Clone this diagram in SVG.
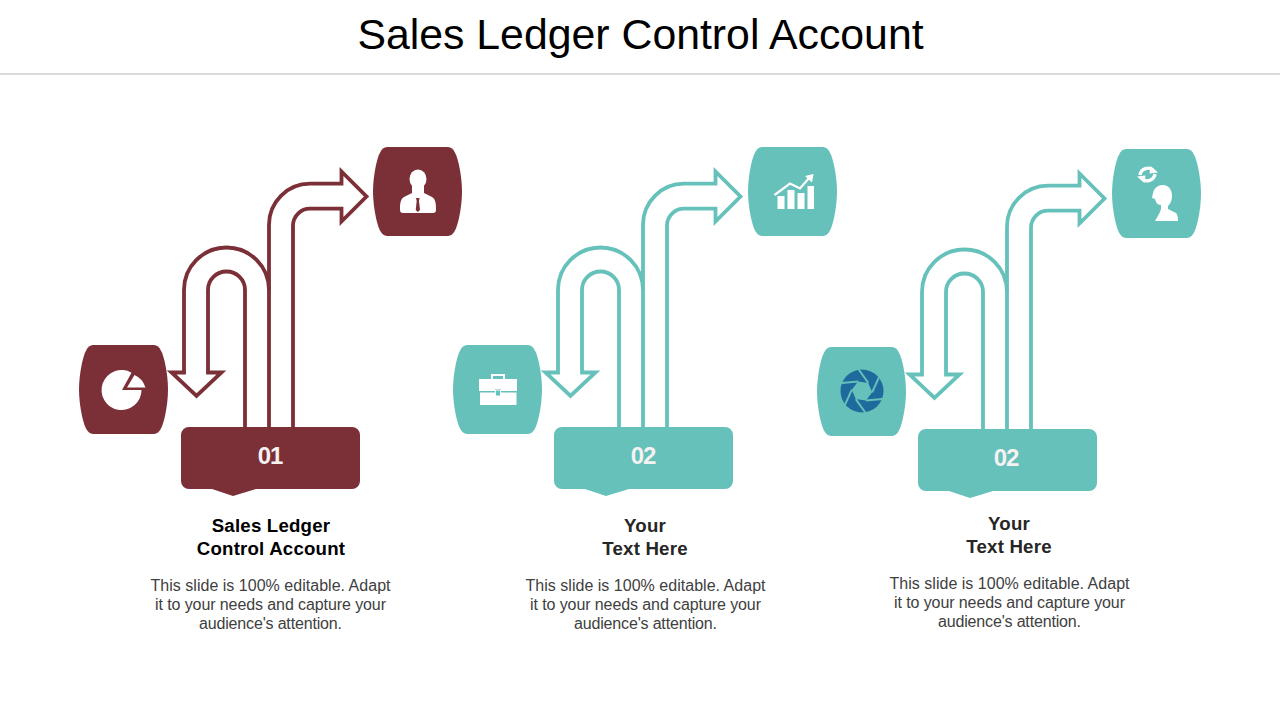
<svg xmlns="http://www.w3.org/2000/svg" width="1280" height="720" viewBox="0 0 1280 720">
<style>
text{font-family:"Liberation Sans",Arial,sans-serif;text-anchor:middle}
.title{font-size:42.8px;fill:#000}
.head{font-size:18.67px;font-weight:700;fill:#262626;letter-spacing:.2px}
.head1{fill:#000}
.body{font-size:16px;fill:#404040}
.num{font-size:24px;font-weight:700;fill:#f5f2f2;letter-spacing:-1px}
.arrow{fill:none;stroke-width:3.8;stroke-linejoin:miter}
.m{fill:#7b2f37}.t{fill:#66c1bb}
.ms{stroke:#7b2f37}.ts{stroke:#66c1bb}
.w{fill:#fff}
</style>
<defs>
<path id="blob" d="M14,0H75C81,0 84,9 86,18C88,27 89,37 89,44.500C89,52 88,62 86,71C84,80 81,89 75,89H14C8,89 5,80 3,71C1,62 0,52 0,44.500C0,37 1,27 3,18C5,9 8,0 14,0Z"/>
<path id="badge" d="M189,427H352A8,8 0 0 1 360,435V481A8,8 0 0 1 352,489H256L233,496L212,489H189A8,8 0 0 1 181,481V435A8,8 0 0 1 189,427Z"/>
<path id="up" d="M269,427V225A41,41 0 0 1 310,183.700H341.500V171.500L366.500,196.500L341.500,221.500V208.700H310A17,17 0 0 0 293,225.500V427"/>
<path id="down" d="M245,427V290A18.500,18.500 0 0 0 208,290V372.500H221.500L196.500,396L171.500,372.500H184V290A42.500,42.500 0 0 1 269,290"/>
<path id="gap" d="M858.700,369.500L868.250,382.900" stroke="#66c1bb" stroke-width="2" fill="none"/>
</defs>
<g id="header">
<text class="title" x="640.500" y="48.500">Sales Ledger Control Account</text>
<rect x="0" y="73" width="1280" height="2" fill="#d9d9d9"/>
</g>
<g id="connectors">
<use href="#up" class="arrow ms"/><use href="#down" class="arrow ms"/>
<use href="#up" class="arrow ts" transform="translate(374,0)"/><use href="#down" class="arrow ts" transform="translate(374,0)"/>
<use href="#up" class="arrow ts" transform="translate(738,2)"/><use href="#down" class="arrow ts" transform="translate(738,2)"/>
</g>
<g id="node-1-source">
<use href="#blob" class="m" x="79" y="345"/>
<path class="w" d="M122,390L131.500,372.700A20,20 0 1 0 141.500,390Z"/>
<path class="w" d="M134.500,375A20,20 0 0 1 145.500,387.500H127Z"/>
</g>
<g id="node-1-target">
<use href="#blob" class="m" x="373" y="147"/>
<ellipse class="w" cx="418" cy="179" rx="8.500" ry="9.500"/>
<path class="w" d="M412,185V193L404,197C400,199 400,205 400,210Q400,213 403,213H433Q436,213 436,210C436,205 436,199 432,197L424,193V185Z"/>
<path class="m" d="M416,198H419.500L419,201L420,210L417.800,212L415.700,210L416.700,201Z"/>
</g>
<g id="node-1-badge">
<use href="#badge" class="m"/>
<text class="num" x="270" y="464">01</text>
</g>
<g id="node-1-text">
<text class="head head1" x="271" y="532">Sales Ledger</text>
<text class="head head1" x="271" y="555">Control Account</text>
<text class="body" x="270.500" y="591" textLength="240">This slide is 100% editable. Adapt</text>
<text class="body" x="270.500" y="610" textLength="231">it to your needs and capture your</text>
<text class="body" x="270.500" y="629" textLength="143">audience's attention.</text>
</g>
<g id="node-2-source">
<use href="#blob" class="t" x="453" y="345"/>
<path class="w" fill-rule="evenodd" d="M491,379V374H505V379H517V391H501V389H495V391H479V379ZM493,379H503V376H493Z"/>
<path class="w" d="M480,392.500H495V396H501V392.500H516.500V405H480Z"/>
<rect x="495.500" y="390" width="5" height="6" fill="none" stroke="#fff"/>
</g>
<g id="node-2-target">
<use href="#blob" class="t" x="748" y="147"/>
<path class="w" d="M777.500,196H784.500V209H777.500ZM787.500,190H794.500V209H787.500ZM797.500,193H804.500V209H797.500ZM807.500,186H814V209H807.500Z"/>
<path d="M774.500,195L790,183.500L800,188.500L810,177" fill="none" stroke="#fff" stroke-width="2.200"/>
<path class="w" d="M805,176L813.500,174L812,182.500Z"/>
</g>
<g id="node-2-badge">
<use href="#badge" class="t" transform="translate(373,0)"/>
<text class="num" x="643" y="464">02</text>
</g>
<g id="node-2-text">
<text class="head" x="645" y="532">Your</text>
<text class="head" x="645" y="555">Text Here</text>
<text class="body" x="645.500" y="591" textLength="240">This slide is 100% editable. Adapt</text>
<text class="body" x="645.500" y="610" textLength="231">it to your needs and capture your</text>
<text class="body" x="645.500" y="629" textLength="143">audience's attention.</text>
</g>
<g id="node-3-source">
<use href="#blob" class="t" x="817" y="347"/>
<circle cx="862" cy="391" r="21.500" fill="#1f6a9c"/>
<path class="t" d="M868.250,382.900L872.200,392.350L865.900,400.500L855.750,399.100L851.800,389.650L858.100,381.500Z"/>
<use href="#gap"/>
<use href="#gap" transform="rotate(60 862 391)"/>
<use href="#gap" transform="rotate(120 862 391)"/>
<use href="#gap" transform="rotate(180 862 391)"/>
<use href="#gap" transform="rotate(240 862 391)"/>
<use href="#gap" transform="rotate(300 862 391)"/>
</g>
<g id="node-3-target">
<use href="#blob" class="t" x="1112" y="149"/>
<path d="M1140,175A8,8 0 0 1 1153.500,170.500M1155,174A8,8 0 0 1 1141.500,178.500" fill="none" stroke="#fff" stroke-width="3.400"/>
<path class="w" d="M1150.500,166L1158,172.500L1149.500,173.500ZM1144.500,183L1137,176.500L1145.500,175.500Z"/>
<path class="w" d="M1153,193C1154,188 1158,185 1163,185C1169,185 1172,190 1172,196C1172,201 1170,204 1168,206V209L1176,213C1178,215 1178,218 1178,221H1155C1157,217 1160,213 1161,209V205C1157,205 1156,202 1155,199L1152,198Z"/>
</g>
<g id="node-3-badge">
<use href="#badge" class="t" transform="translate(737,2)"/>
<text class="num" x="1006" y="466">02</text>
</g>
<g id="node-3-text">
<text class="head" x="1009" y="530">Your</text>
<text class="head" x="1009" y="553">Text Here</text>
<text class="body" x="1009.500" y="589" textLength="240">This slide is 100% editable. Adapt</text>
<text class="body" x="1009.500" y="608" textLength="231">it to your needs and capture your</text>
<text class="body" x="1009.500" y="627" textLength="143">audience's attention.</text>
</g>
</svg>
